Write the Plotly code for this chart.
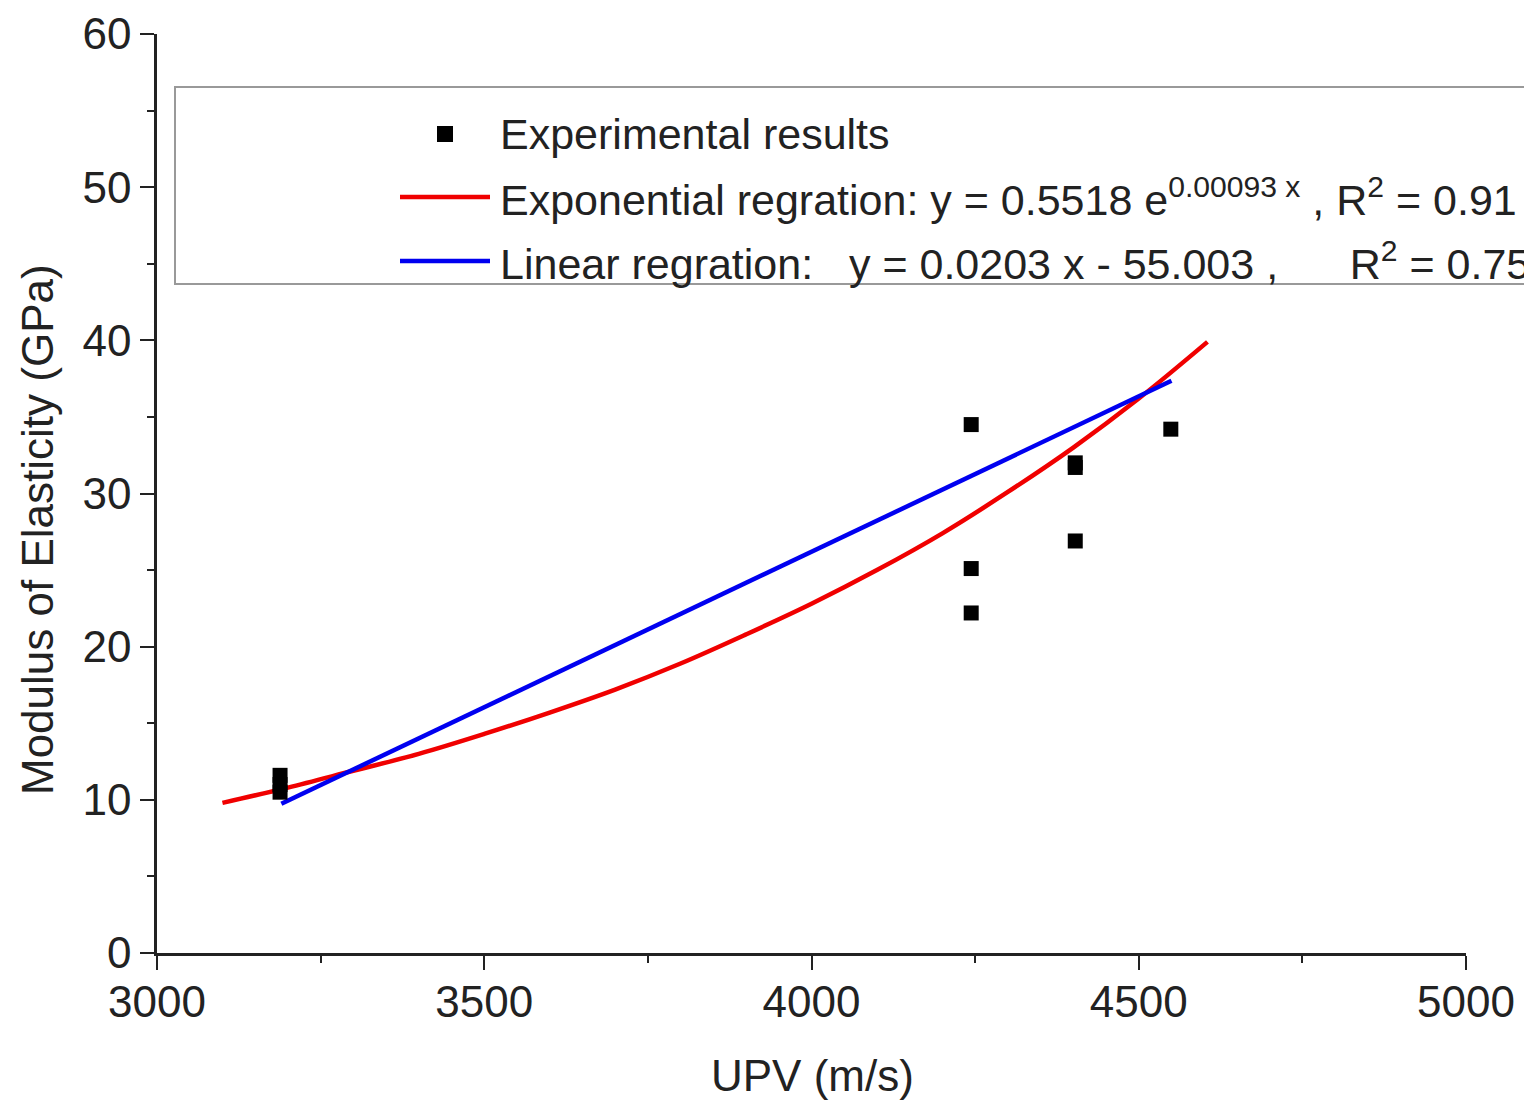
import plotly.graph_objects as go

# ---- data ----
exp_x = [3188, 3188, 3188, 4244, 4244, 4244, 4403, 4403, 4403, 4549]
exp_y = [11.6, 11.0, 10.5, 34.5, 25.1, 22.2, 32.0, 31.7, 26.9, 34.2]

exp_fit_x = [3100, 3200, 3300, 3400, 3500, 3600, 3700, 3800, 3900, 4000, 4100, 4200, 4300, 4400, 4500, 4605]
exp_fit_y = [9.8, 10.8, 11.9, 13.0, 14.3, 15.7, 17.2, 18.9, 20.8, 22.8, 25.0, 27.4, 30.1, 33.0, 36.2, 39.9]

lin_fit_x = [3190, 4550]
lin_fit_y = [9.75, 37.36]

x_ticks = [3000, 3500, 4000, 4500, 5000]
y_ticks = [0, 10, 20, 30, 40, 50, 60]

legend_labels = [
    "Experimental results",
    "Exponential regration: y = 0.5518 e<sup>0.00093 x</sup> , R<sup>2</sup> = 0.91",
    "Linear regration:&nbsp;&nbsp; y = 0.0203 x - 55.003 ,&nbsp;&nbsp;&nbsp;&nbsp;&nbsp; R<sup>2</sup> = 0.75",
]
x_title = "UPV (m/s)"
y_title = "Modulus of Elasticity (GPa)"

FONT = "Liberation Sans, Arial, sans-serif"
W, H = 1524, 1103
L, R, T, B = 157, 58, 34, 150
PW, PH = W - L - R, H - T - B


def px(xp):
    return (xp - L) / PW


def py(yp):
    return (H - B - yp) / PH


fig = go.Figure()
fig.add_trace(go.Scatter(x=exp_fit_x, y=exp_fit_y, mode="lines", line=dict(color="#f00000", width=4.5, shape="spline"),
                         showlegend=False, cliponaxis=False))
fig.add_trace(go.Scatter(x=lin_fit_x, y=lin_fit_y, mode="lines", line=dict(color="#0000f0", width=4.5),
                         showlegend=False, cliponaxis=False))
fig.add_trace(go.Scatter(x=exp_x, y=exp_y, mode="markers",
                         marker=dict(symbol="square", size=15, color="black"),
                         showlegend=False, cliponaxis=False))

axis_common = dict(showline=True, linecolor="#222", linewidth=2.5, ticks="outside", ticklen=14,
                   tickwidth=2, tickcolor="#222", showgrid=False, zeroline=False,
                   tickfont=dict(family=FONT, size=44, color="#222"))
fig.update_xaxes(range=[3000, 5000], tickvals=x_ticks, ticklabelstandoff=-6,
                 minor=dict(ticks="outside", ticklen=7, tickwidth=2, tickcolor="#222", dtick=250), **axis_common)
fig.update_yaxes(range=[0, 60], tickvals=y_ticks,
                 minor=dict(ticks="outside", ticklen=7, tickwidth=2, tickcolor="#222", dtick=5), **axis_common)

shapes = [
    dict(type="rect", xref="paper", yref="paper", x0=px(175), x1=px(1540), y0=py(284), y1=py(87),
         line=dict(color="#999", width=2), fillcolor="rgba(0,0,0,0)"),
    dict(type="rect", xref="paper", yref="paper", x0=px(437), x1=px(453), y0=py(142), y1=py(126),
         line=dict(width=0), fillcolor="black"),
    dict(type="line", xref="paper", yref="paper", x0=px(400), x1=px(490), y0=py(197), y1=py(197),
         line=dict(color="#f00000", width=4.5)),
    dict(type="line", xref="paper", yref="paper", x0=px(400), x1=px(490), y0=py(261), y1=py(261),
         line=dict(color="#0000f0", width=4.5)),
]

annotations = []
for label, yc in zip(legend_labels, [134, 197, 261]):
    annotations.append(dict(xref="paper", yref="paper", x=px(498), y=py(yc), text=label, showarrow=False,
                            xanchor="left", yanchor="middle", font=dict(family=FONT, size=43, color="#222")))
annotations.append(dict(xref="paper", yref="paper", x=px(812), y=py(1075), text=x_title, showarrow=False,
                        xanchor="center", yanchor="middle", font=dict(family=FONT, size=44, color="#222")))
annotations.append(dict(xref="paper", yref="paper", x=px(37), y=py(530), text=y_title, showarrow=False,
                        textangle=-90, xanchor="center", yanchor="middle",
                        font=dict(family=FONT, size=44, color="#222")))

fig.update_layout(width=W, height=H, margin=dict(l=L, r=R, t=T, b=B, autoexpand=False),
                  plot_bgcolor="white", paper_bgcolor="white", shapes=shapes, annotations=annotations,
                  showlegend=False)

fig.write_html("out.html")
